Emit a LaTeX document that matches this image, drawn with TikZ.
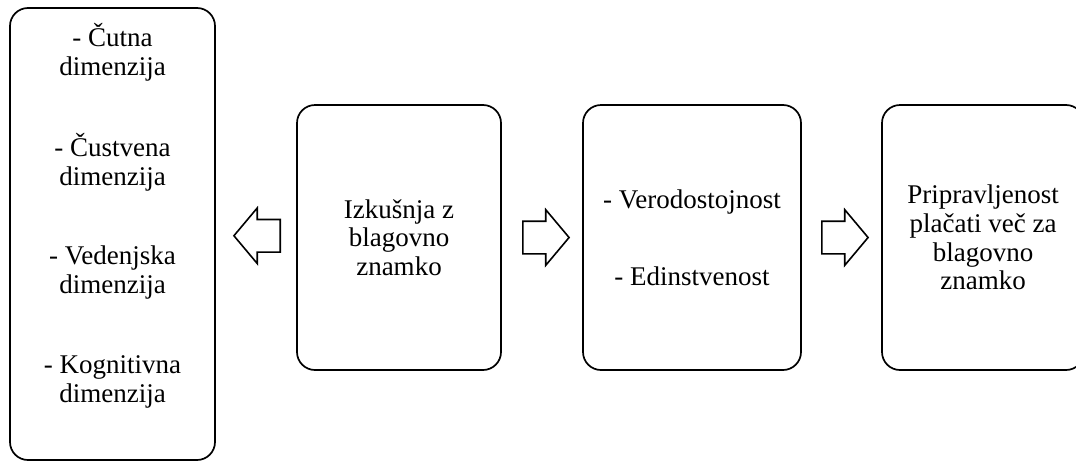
\documentclass[tikz,border=0pt]{standalone}
\usepackage{fontspec}
\setmainfont{Liberation Serif}
\usetikzlibrary{shapes.arrows,calc}

\begin{document}
\begin{tikzpicture}[x=1pt, y=-1pt,
    every node/.style={font=\fontsize{27}{28.7}\selectfont, align=center},
    frame/.style={draw, line width=1.7pt, rounded corners=18pt, minimum height=265pt},
    fatarrow/.style={draw, single arrow, line width=1.6pt, minimum height=45pt, minimum width=54pt,
      inner sep=15.5pt, single arrow head extend=11.5pt, single arrow tip angle=100, anchor=tail}]
      \useasboundingbox (0,0) rectangle (1076,461);
      \node (dims) at (112.5,234) [frame, minimum width=205pt, minimum height=452pt] {};
      \node (dimlist) at (112.5,402) [anchor=base] {- Čutna\\dimenzija\\[51pt]- Čustvena\\dimenzija\\[51pt]- Vedenjska\\dimenzija\\[51pt]- Kognitivna\\dimenzija};
      \node (exp) at (399,237.5) [frame, minimum width=204pt] {Izkušnja z\\blagovno\\znamko};
      \node (auth) at (692,237.5) [frame, minimum width=218pt] {- Verodostojnost\\[48pt]- Edinstvenost};
      \node (pay) at (983,237.5) [frame, minimum width=202pt] {Pripravljenost\\plačati več za\\blagovno\\znamko};
      % block arrows between the boxes
      \node (toleft) at ($(dims.east)!0.5!(exp.west)$) [fatarrow, shape border rotate=180, xshift=25pt] {};
      \node (tomid) at ($(exp.east)!0.5!(auth.west)$) [fatarrow, xshift=-20pt] {};
      \node (toright) at ($(auth.east)!0.5!(pay.west)$) [fatarrow, xshift=-20.5pt] {};
\end{tikzpicture}
\end{document}
